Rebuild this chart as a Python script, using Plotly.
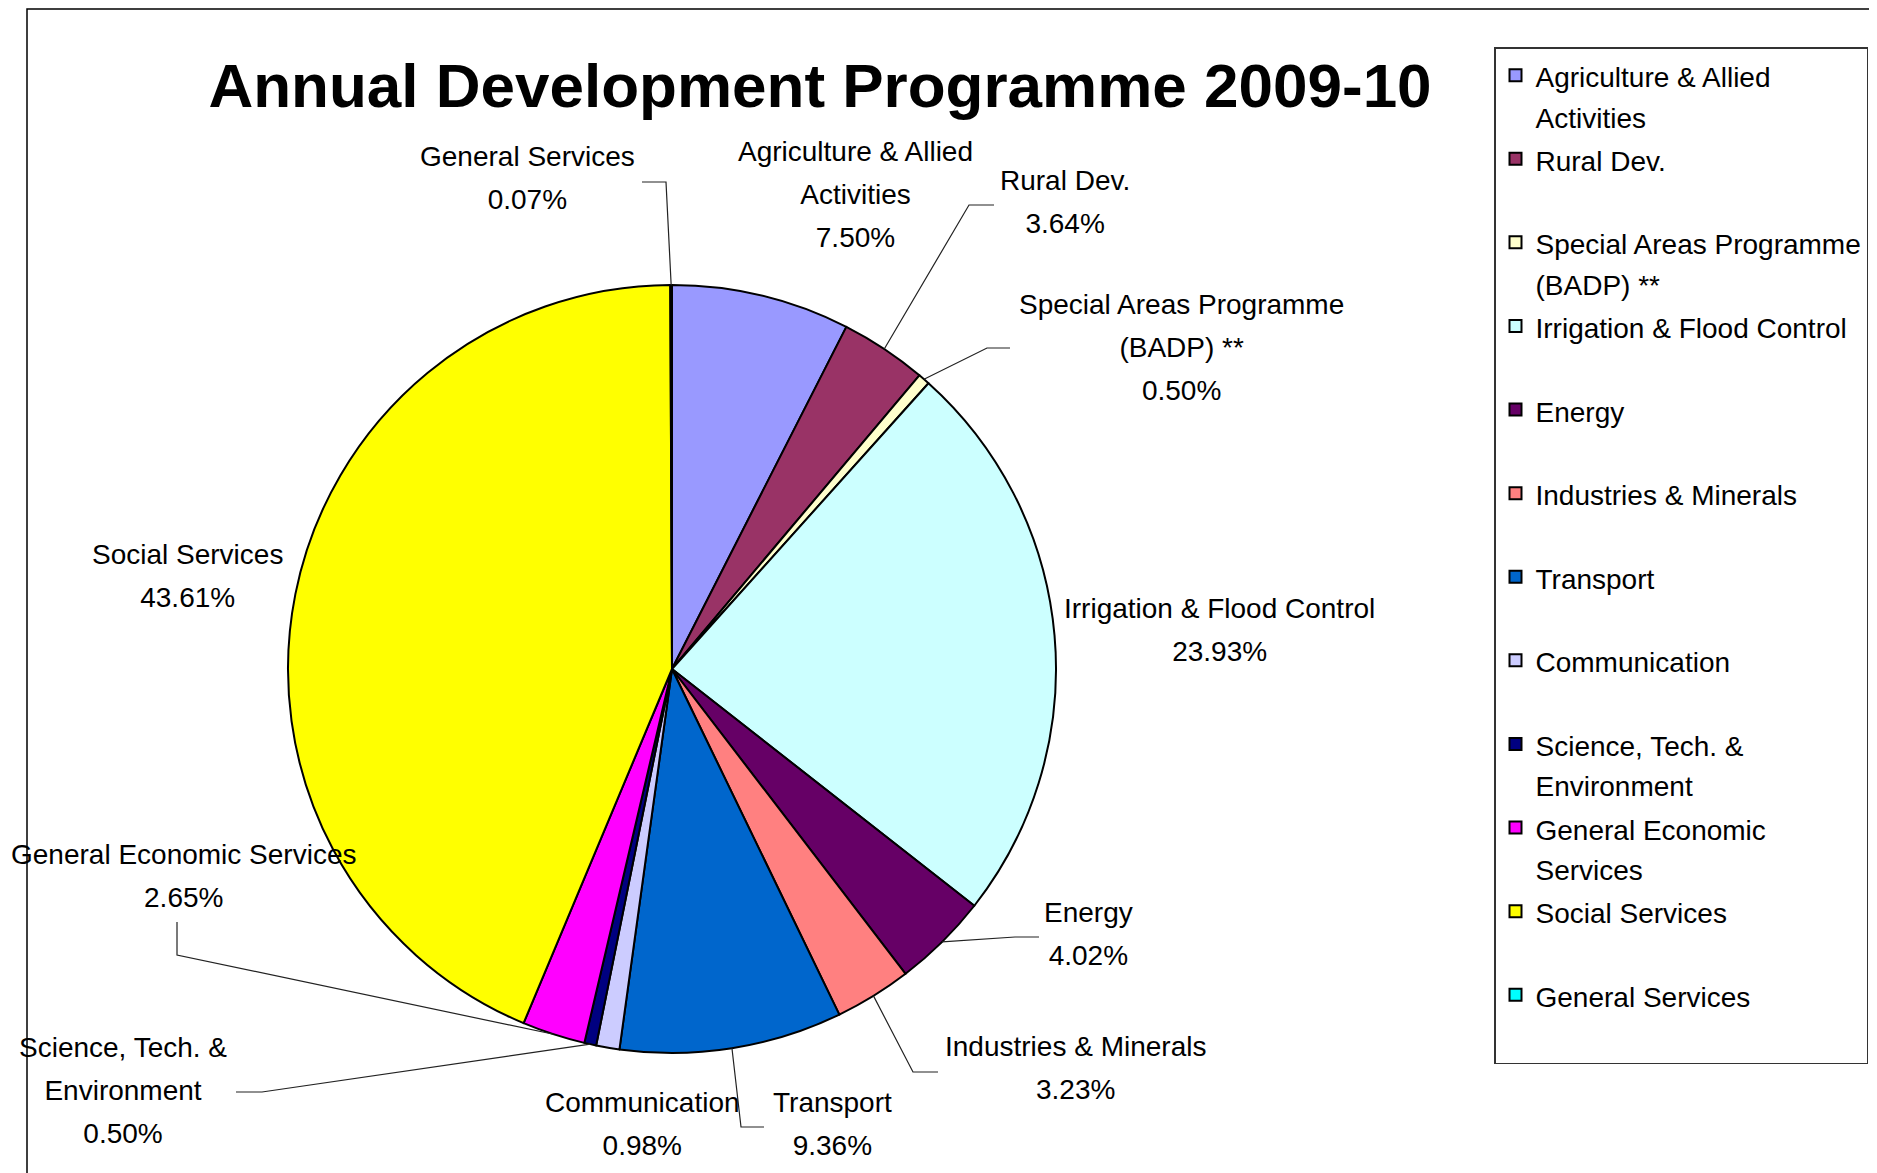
import math
import plotly.graph_objects as go

W, H = 1877, 1173
OFF = 8  # page body margin of the browser

# ---------------- data ----------------
categories = [
    "Agriculture & Allied Activities",
    "Rural Dev.",
    "Special Areas Programme (BADP) **",
    "Irrigation & Flood Control",
    "Energy",
    "Industries & Minerals",
    "Transport",
    "Communication",
    "Science, Tech. & Environment",
    "General Economic Services",
    "Social Services",
    "General Services",
]
shares_pct = [7.50, 3.64, 0.50, 23.93, 4.02, 3.23, 9.36, 0.98, 0.50, 2.65, 43.61, 0.07]

legend_lines = [
    ["Agriculture & Allied", "Activities"],
    ["Rural Dev.", "\u00a0"],
    ["Special Areas Programme", "(BADP) **"],
    ["Irrigation & Flood Control", "\u00a0"],
    ["Energy", "\u00a0"],
    ["Industries & Minerals", "\u00a0"],
    ["Transport", "\u00a0"],
    ["Communication", "\u00a0"],
    ["Science, Tech. &", "Environment"],
    ["General Economic", "Services"],
    ["Social Services", "\u00a0"],
    ["General Services", "\u00a0"],
]
label_lines = [
    ["Agriculture & Allied", "Activities"],
    ["Rural Dev."],
    ["Special Areas Programme", "(BADP) **"],
    ["Irrigation & Flood Control"],
    ["Energy"],
    ["Industries & Minerals"],
    ["Transport"],
    ["Communication"],
    ["Science, Tech. &", "Environment"],
    ["General Economic Services"],
    ["Social Services"],
    ["General Services"],
]

colors = ["#9999FF", "#993366", "#FFFFCC", "#CCFFFF", "#660066", "#FF8080",
          "#0066CC", "#CCCCFF", "#000080", "#FF00FF", "#FFFF00", "#00FFFF"]

FONT = "Liberation Sans, Arial, sans-serif"
GLYPH = 28  # visible glyph size (px)


def sized(lines, px=GLYPH):
    return "<br>".join(f'<span style="font-size:{px}px">{ln}</span>' for ln in lines)


# ---------------- layout geometry (screen pixels) ----------------
CX, CY, R = 672, 669, 384


def paper(x, y):
    return (x - OFF) / W, 1 - (y - OFF) / H


# label centers (px)
label_pos = [
    (855, 194), (1065, 202), (1181, 347), (1219, 630), (1088, 934), (1075, 1068),
    (832, 1124), (642, 1124), (123, 1090), (183, 876), (187, 576), (527, 178),
]
# leader line elbows (px), None = no leader
leaders = [
    None,
    [(994, 205), (969, 205)],
    [(1010, 348), (987, 348)],
    None,
    [(1039, 937), (1015, 937)],
    [(938, 1072), (913, 1072)],
    [(764, 1127), (741, 1127)],
    None,
    [(236, 1092), (262, 1092)],
    [(177, 922), (177, 955)],
    None,
    [(642, 182), (666, 182)],
]

x0, y1p = paper(CX - R, CY - R)
x1, y0p = paper(CX + R, CY + R)

fig = go.Figure(go.Pie(
    labels=[sized(l) for l in legend_lines],
    values=shares_pct,
    customdata=categories,
    sort=False,
    direction="clockwise",
    rotation=0,
    textinfo="none",
    marker=dict(colors=colors, line=dict(color="black", width=2)),
    domain=dict(x=[x0, x1], y=[y0p, y1p]),
    hovertemplate="%{customdata}: %{value:.2f}%<extra></extra>",
))

total = sum(shares_pct)
cum = 0.0
annotations = []
shapes = []
for i, v in enumerate(shares_pct):
    mid = (cum + v / 2) / total
    cum += v
    ang = 2 * math.pi * mid
    ex, ey = CX + R * math.sin(ang), CY - R * math.cos(ang)
    lx, ly = label_pos[i]
    px, py = paper(lx, ly)
    annotations.append(dict(
        x=px, y=py, xref="paper", yref="paper", xanchor="center", yanchor="middle",
        text=sized(label_lines[i] + [f"{v:.2f}%"]), showarrow=False, align="center",
        font=dict(family=FONT, size=33, color="black"),
    ))
    if leaders[i]:
        pts = leaders[i] + [(ex, ey)]
        path = "M " + " L ".join(f"{paper(a, b)[0]:.5f},{paper(a, b)[1]:.5f}" for a, b in pts)
        shapes.append(dict(type="path", xref="paper", yref="paper", path=path,
                           line=dict(color="#222222", width=1.2)))

# outer frame
fx0, fy0 = paper(27, 9)
fx1, fy1 = paper(1871, 1190)
shapes.append(dict(type="rect", xref="paper", yref="paper", x0=fx0, y0=fy1, x1=fx1, y1=fy0,
                   line=dict(color="black", width=1.5), layer="below"))

tx, ty = paper(820, 85)
lgx, lgy = paper(1494, 47)

fig.update_layout(
    width=W, height=H,
    margin=dict(l=0, r=0, t=0, b=0),
    paper_bgcolor="white", plot_bgcolor="white",
    title=dict(text="<b>Annual Development Programme 2009-10</b>",
               x=tx, y=ty, xanchor="center", yanchor="middle",
               font=dict(family=FONT, size=62, color="black")),
    showlegend=True,
    legend=dict(x=lgx, y=lgy, xanchor="left", yanchor="top",
                bgcolor="white", bordercolor="#333333", borderwidth=1.5,
                valign="top", traceorder="normal",
                font=dict(family=FONT, size=31, color="black")),
    annotations=annotations,
    shapes=shapes,
)

fig.write_html("out.html")
